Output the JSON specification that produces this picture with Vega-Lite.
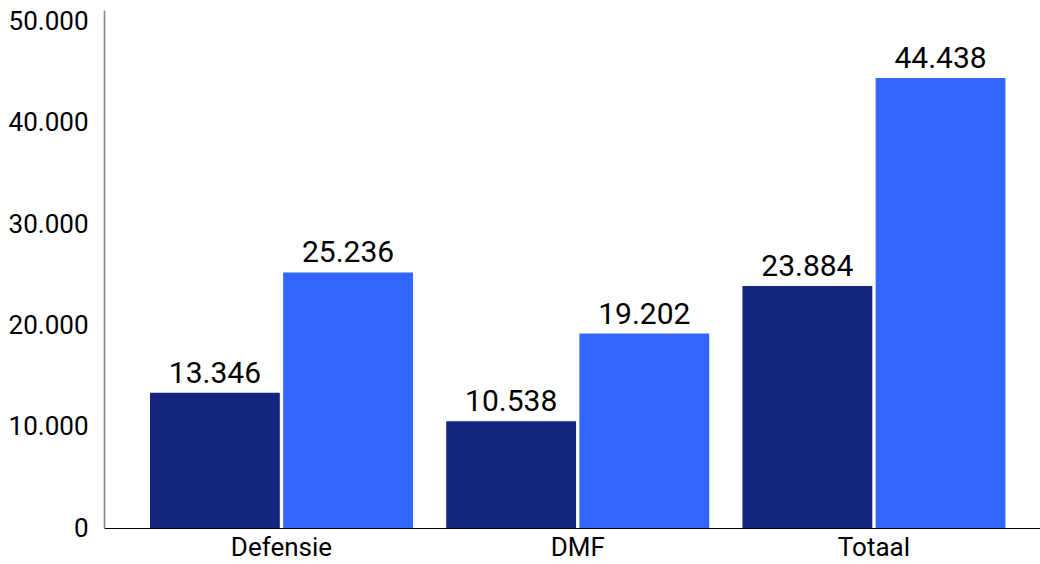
{
  "$schema": "https://vega.github.io/schema/vega-lite/v6.json",
  "autosize": "none",
  "width": 936,
  "height": 518,
  "padding": {"left": 104, "top": 10, "right": 0, "bottom": 36},
  "background": "white",
  "config": {
    "locale": {"number": {"decimal": ",", "thousands": ".", "grouping": [3], "currency": ["€", ""]}},
    "view": {"stroke": null},
    "font": "Roboto"
  },
  "data": {
    "values": [
      {"categorie": "Defensie", "reeks": "reeks 1", "waarde": 13346},
      {"categorie": "Defensie", "reeks": "reeks 2", "waarde": 25236},
      {"categorie": "DMF", "reeks": "reeks 1", "waarde": 10538},
      {"categorie": "DMF", "reeks": "reeks 2", "waarde": 19202},
      {"categorie": "Totaal", "reeks": "reeks 1", "waarde": 23884},
      {"categorie": "Totaal", "reeks": "reeks 2", "waarde": 44438}
    ]
  },
  "encoding": {
    "x": {
      "field": "categorie", "type": "nominal", "sort": ["Defensie", "DMF", "Totaal"],
      "scale": {"paddingInner": 0.1122, "paddingOuter": 0.1359, "align": 0.571},
      "axis": {"title": null, "labelAngle": 0, "labelFont": "Roboto", "labelFontSize": 26, "labelColor": "#000000", "labelPadding": 6, "ticks": false, "domainColor": "#000000", "domainWidth": 1.2, "grid": false}
    },
    "xOffset": {"field": "reeks", "type": "nominal", "scale": {"paddingInner": 0.025, "paddingOuter": 0}},
    "y": {
      "field": "waarde", "type": "quantitative",
      "scale": {"domain": [0, 51150], "nice": false, "zero": true},
      "axis": {"title": null, "values": [0, 10000, 20000, 30000, 40000, 50000], "format": ",d", "labelFont": "Roboto", "labelFontSize": 26, "labelColor": "#000000", "labelPadding": 16, "ticks": false, "grid": false, "domainColor": "#888888", "domainWidth": 1.6}
    }
  },
  "layer": [
    {
      "mark": {"type": "bar"},
      "encoding": {
        "color": {"field": "reeks", "type": "nominal", "scale": {"domain": ["reeks 1", "reeks 2"], "range": ["#15247f", "#3366ff"]}, "legend": null}
      }
    },
    {
      "mark": {"type": "text", "baseline": "alphabetic", "dy": -10, "font": "Roboto", "fontSize": 30, "color": "#000000"},
      "encoding": {
        "text": {"field": "waarde", "type": "quantitative", "format": ",d"}
      }
    }
  ]
}
